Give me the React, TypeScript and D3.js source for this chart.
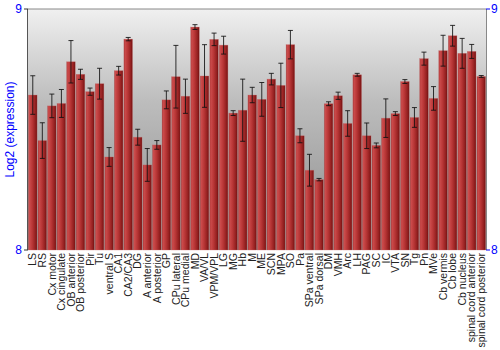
import React from "react";
import * as d3 from "d3";

const categories = ["LS","RS","Cx motor","Cx cingulate","OB anterior","OB posterior","Pir","Tu","ventral S","CA1","CA2/CA3","DG","A anterior","A posterior","GP","CPu lateral","CPu medial","MD","VA/VL","VPM/VPL","LG","MG","Hb","M","ME","SCN","MPA","SO","Pa","SPa ventral","SPa dorsal","DM","VMH","Arc","LH","PAG","SC","IC","VTA","SN","Tg","Pn","MVe","Cb vermis","Cb lobe","Cb nucleus","spinal cord anterior","spinal cord posterior"];
const values = [8.643,8.454,8.598,8.608,8.781,8.729,8.657,8.690,8.386,8.744,8.875,8.468,8.353,8.436,8.623,8.719,8.638,8.925,8.722,8.874,8.850,8.568,8.580,8.643,8.625,8.709,8.683,8.852,8.474,8.331,8.292,8.607,8.640,8.525,8.727,8.474,8.434,8.547,8.566,8.699,8.550,8.794,8.629,8.827,8.889,8.816,8.824,8.720];
const errors = [0.080,0.074,0.049,0.058,0.088,0.021,0.015,0.064,0.039,0.018,0.007,0.033,0.068,0.018,0.037,0.130,0.071,0.010,0.130,0.026,0.037,0.010,0.129,0.032,0.070,0.024,0.092,0.059,0.029,0.066,0.005,0.008,0.015,0.053,0.006,0.053,0.010,0.080,0.008,0.008,0.041,0.027,0.049,0.064,0.043,0.062,0.029,0.004];
const yTicks = [8, 9];
const yTitle = "Log2 (expression)";

const W = 500, H = 350;
const left = 28, right = 486, top = 9, bottom = 250;

export default function App() {
  const x = d3.scaleBand<string>().domain(categories).range([left, right]).paddingInner(0.1).paddingOuter(0.05);
  const y = d3.scaleLinear().domain([8, 9]).range([bottom, top]);
  const bw = x.bandwidth();
  return (
    <svg width={W} height={H} style={{ position: "absolute", left: 0, top: 0, fontFamily: "Liberation Sans, Arial, sans-serif" }}>
      <defs>
        <linearGradient id="bg" x1="0" y1="0" x2="0" y2="1">
          <stop offset="0" stopColor="#f0f0f0" />
          <stop offset="0.38" stopColor="#bdbdbd" />
          <stop offset="0.72" stopColor="#a2a2a2" />
          <stop offset="1" stopColor="#969696" />
        </linearGradient>
        <linearGradient id="bar" x1="0" y1="0" x2="1" y2="0">
          <stop offset="0" stopColor="#9e2c2c" />
          <stop offset="0.12" stopColor="#cc4c4c" />
          <stop offset="0.45" stopColor="#b83636" />
          <stop offset="0.8" stopColor="#942020" />
          <stop offset="1" stopColor="#701010" />
        </linearGradient>
      </defs>
      <rect x={left} y={top} width={right - left} height={bottom - top} fill="url(#bg)" />
      {categories.map((c, i) => (
        <rect key={c} x={x(c)} y={y(values[i])} width={bw} height={bottom - y(values[i])} fill="url(#bar)" stroke="#c86a6a" strokeOpacity={0.5} strokeWidth={0.6} />
      ))}
      {categories.map((c, i) => {
        const cx = (x(c) as number) + bw / 2;
        const y1 = y(values[i] + errors[i]);
        const y2 = y(values[i] - errors[i]);
        return (
          <g key={"e" + c} stroke="#111" strokeOpacity={0.85} strokeWidth={1}>
            <line x1={cx} x2={cx} y1={y1} y2={y2} />
            <line x1={cx - 2.5} x2={cx + 2.5} y1={y1} y2={y1} />
            <line x1={cx - 2.5} x2={cx + 2.5} y1={y2} y2={y2} />
          </g>
        );
      })}
      <line x1={left} x2={right} y1={top} y2={top} stroke="#888" />
      <line x1={left - 0.5} x2={left - 0.5} y1={top} y2={bottom} stroke="#555" />
      <line x1={right + 0.5} x2={right + 0.5} y1={top} y2={bottom} stroke="#888" />
      {yTicks.map((t) => (
        <g key={t}>
          <line x1={left - 4} x2={left} y1={y(t)} y2={y(t)} stroke="#333" />
          <text x={left - 6} y={y(t)} dy="0.35em" textAnchor="end" fontSize={12} fill="#0000ff">{t}</text>
          <line x1={right} x2={right + 4} y1={y(t)} y2={y(t)} stroke="#0000ff" />
          <text x={right + 5} y={y(t)} dy="0.35em" textAnchor="start" fontSize={12} fill="#0000ff">{t}</text>
        </g>
      ))}
      <text transform={`translate(10,${(top + bottom) / 2}) rotate(-90)`} textAnchor="middle" dy="0.35em" fontSize={12} fill="#0000ff">{yTitle}</text>
      {categories.map((c) => (
        <text key={"l" + c} transform={`translate(${(x(c) as number) + bw / 2},${bottom + 3}) rotate(-90)`} textAnchor="end" dy="0.35em" fontSize={10.5} fill="#222">{c}</text>
      ))}
    </svg>
  );
}
